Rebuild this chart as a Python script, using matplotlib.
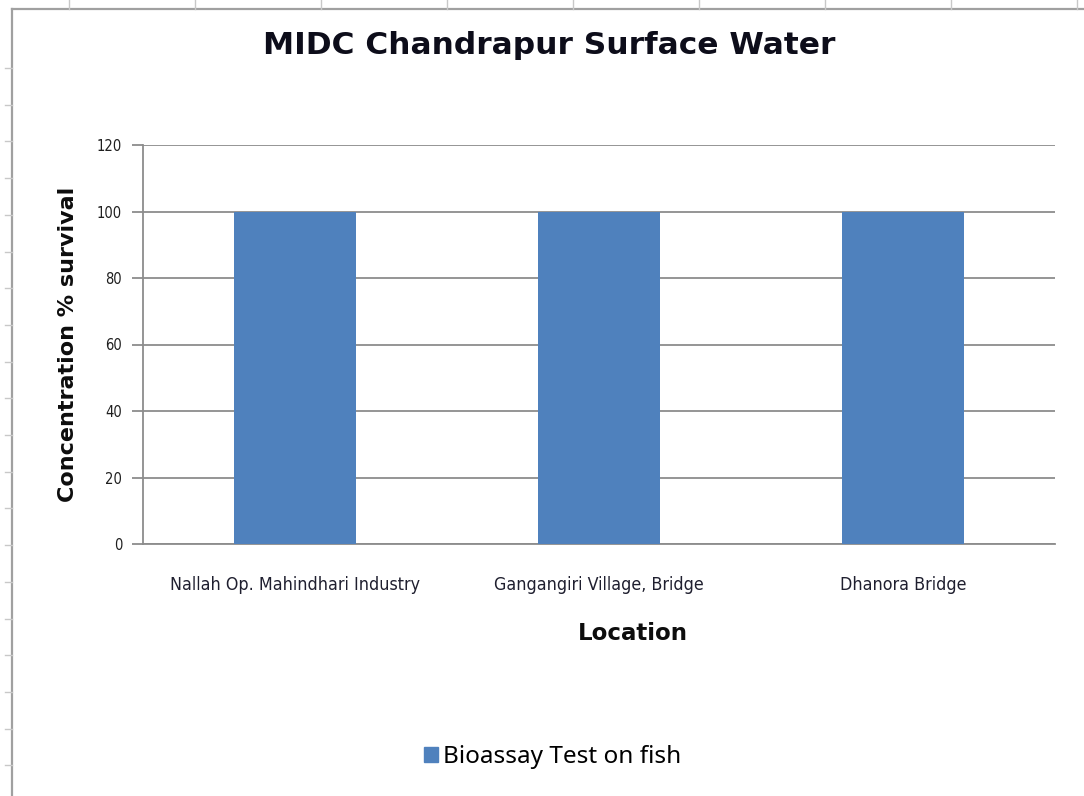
import matplotlib.pyplot as plt
import numpy as np
from matplotlib.lines import Line2D
from matplotlib.patches import Patch

locations = ["Nallah Op. Mahindhari Industry", "Gangangiri Village, Bridge", "Dhanora Bridge"]
survival = [100, 100, 100]
y_ticks = [0, 20, 40, 60, 80, 100, 120]
series_name = "Bioassay Test on fish"

bar_color = "#4F81BD"
grid_color = "#8C8C8C"

W, H = 1084, 796
fig = plt.figure(figsize=(W / 100, H / 100), dpi=100)

# sheet frame behind the chart
fig.add_artist(Line2D([12 / W, 12 / W], [0, 1 - 9 / H], color="#A0A0A0", lw=1.6))
fig.add_artist(Line2D([12 / W, 1], [1 - 9 / H, 1 - 9 / H], color="#A0A0A0", lw=1.6))
for x in np.arange(69, W, 126):
    fig.add_artist(Line2D([x / W, x / W], [1 - 9 / H, 1], color="#C8C8C8", lw=1))
for y in np.arange(68, H, 36.7):
    fig.add_artist(Line2D([5 / W, 12 / W], [1 - y / H, 1 - y / H], color="#C8C8C8", lw=1))

ax = fig.add_axes([143 / W, 1 - 544 / H, (1055 - 143) / W, (544 - 145) / H])
x = np.arange(len(locations))
ax.bar(x, survival, width=0.4, color=bar_color, zorder=3)
ax.set_xlim(-0.5, len(locations) - 0.5)
ax.set_ylim(0, 120)
ax.set_yticks(y_ticks)
ax.yaxis.grid(True, color=grid_color, lw=1.3, zorder=0)
ax.set_xticks(x)
ax.set_xticklabels(locations, fontfamily="DejaVu Sans", fontstretch="condensed",
                   fontsize=12.8, color="#1F1F2F")
ax.set_yticklabels([str(v) for v in y_ticks], fontfamily="DejaVu Sans",
                   fontstretch="condensed", fontsize=10.5, color="#1F1F1F")
ax.tick_params(axis="x", length=0, pad=23)
ax.tick_params(axis="y", length=8, width=1.3, color=grid_color, pad=7)

for side in ["top", "right"]:
    ax.spines[side].set_visible(False)
ax.spines["left"].set_color(grid_color)
ax.spines["left"].set_linewidth(1.3)
ax.spines["bottom"].set_color(grid_color)
ax.spines["bottom"].set_linewidth(1.3)

fig.text(549 / W, 1 - 45 / H, "MIDC Chandrapur Surface Water", ha="center", va="center",
         fontsize=22.5, fontweight="bold", color="#0D0D1A")
fig.text(68 / W, 1 - 344 / H, "Concentration % survival", ha="center", va="center",
         rotation=90, fontsize=16, fontweight="bold", color="#0D0D0D")
fig.text(633 / W, 1 - 633 / H, "Location", ha="center", va="center",
         fontsize=16.5, fontweight="bold", color="#0D0D0D")

fig.legend(handles=[Patch(color=bar_color, label=series_name)], loc="center",
           bbox_to_anchor=(553 / W, 1 - 757 / H), frameon=False, handlelength=0.58,
           handleheight=0.58, handletextpad=0.2, prop={"family": "Noto Sans", "size": 17.5})

fig.savefig("out.png", dpi=100)
